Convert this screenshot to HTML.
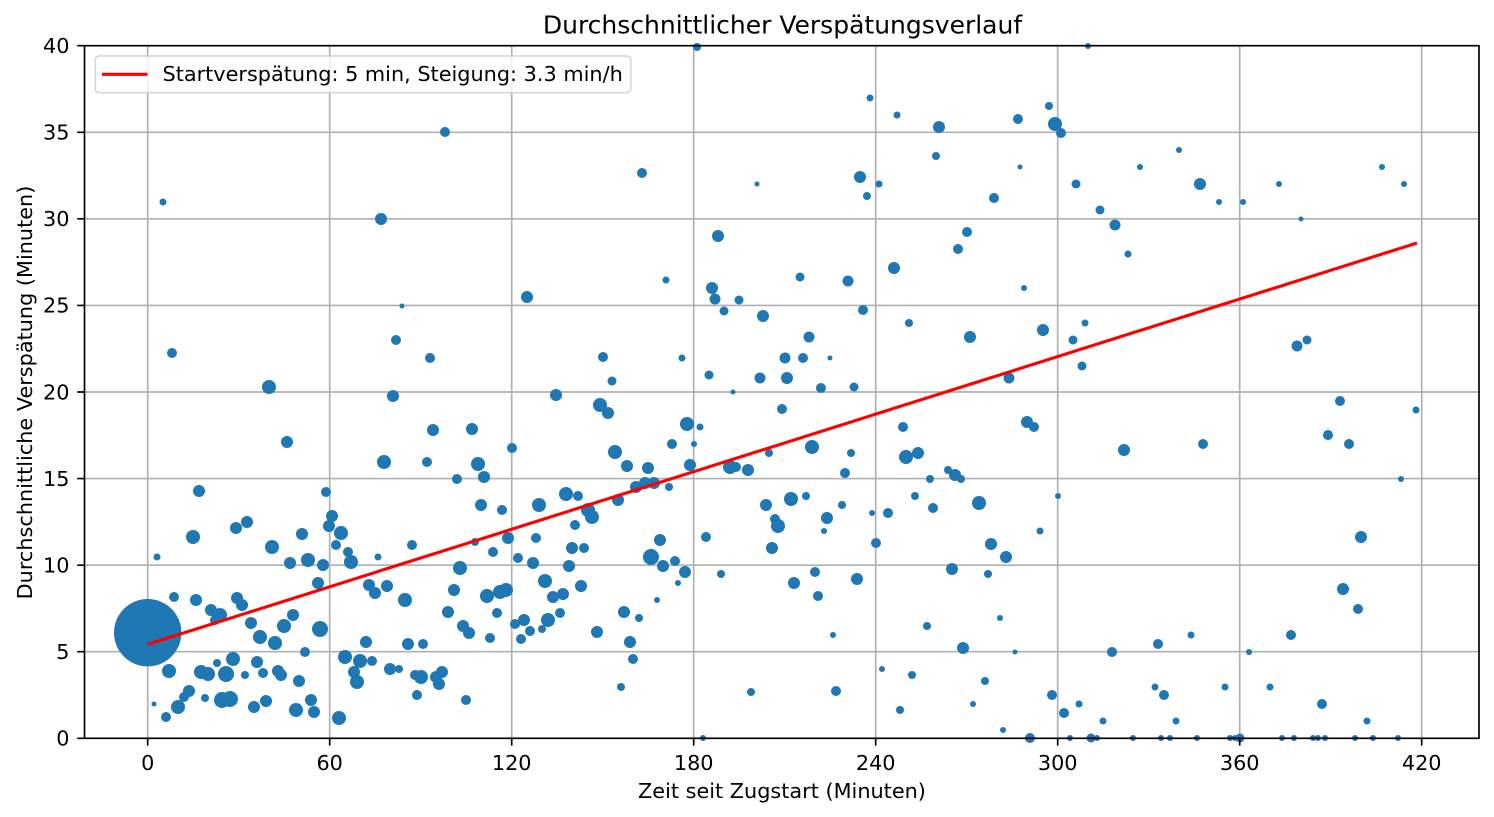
<!DOCTYPE html>
<html>
<head>
<meta charset="utf-8">
<style>
html,body{margin:0;padding:0;background:#fff;}
svg{display:block;}
text{font-family:"DejaVu Sans","Liberation Sans",sans-serif;fill:#000;}
</style>
</head>
<body>
<svg width="1494" height="817" viewBox="0 0 1494 817" xmlns="http://www.w3.org/2000/svg">
<rect x="0" y="0" width="1494" height="817" fill="#fff"/>
<g stroke="#b0b0b0" stroke-width="1.67" fill="none">
<path d="M147.7 45.7V738.3M329.7 45.7V738.3M511.7 45.7V738.3M693.7 45.7V738.3M875.7 45.7V738.3M1057.7 45.7V738.3M1239.7 45.7V738.3M1421.7 45.7V738.3"/>
<path d="M84.5 651.7H1479M84.5 565.2H1479M84.5 478.6H1479M84.5 392H1479M84.5 305.4H1479M84.5 218.8H1479M84.5 132.3H1479"/>
</g>
<g fill="#1f77b4">
<circle cx="147.7" cy="632.7" r="33.7"/>
<circle cx="269" cy="387" r="7"/><circle cx="393" cy="396" r="6"/><circle cx="556" cy="395" r="6"/><circle cx="433" cy="430" r="6"/>
<circle cx="472" cy="429" r="6"/><circle cx="287" cy="442" r="6"/><circle cx="512" cy="448" r="5"/><circle cx="384" cy="462" r="7"/>
<circle cx="427" cy="462" r="5"/><circle cx="478" cy="464" r="7"/><circle cx="484" cy="477" r="6"/><circle cx="457" cy="479" r="5"/>
<circle cx="199" cy="491" r="6"/><circle cx="326" cy="492" r="5"/><circle cx="481" cy="505" r="6"/><circle cx="539" cy="505" r="7"/>
<circle cx="502" cy="510" r="5"/><circle cx="332" cy="516" r="6"/><circle cx="329" cy="526" r="6"/><circle cx="341" cy="533" r="7"/>
<circle cx="193" cy="537" r="7"/><circle cx="236" cy="528" r="6"/><circle cx="247" cy="522" r="6"/><circle cx="302" cy="534" r="6"/>
<circle cx="272" cy="547" r="7"/><circle cx="336" cy="545" r="5"/><circle cx="412" cy="545" r="5"/><circle cx="508" cy="538" r="6"/>
<circle cx="536" cy="538" r="5"/><circle cx="157" cy="557" r="3.5"/><circle cx="378" cy="557" r="3.5"/><circle cx="348" cy="552" r="5"/>
<circle cx="351" cy="562" r="7"/><circle cx="290" cy="563" r="6"/><circle cx="308" cy="560" r="7"/><circle cx="323" cy="565" r="6"/>
<circle cx="460" cy="568" r="7"/><circle cx="475" cy="542" r="4"/><circle cx="493" cy="552" r="5"/><circle cx="518" cy="558" r="5"/>
<circle cx="533" cy="563" r="6"/><circle cx="318" cy="583" r="6"/><circle cx="369" cy="585" r="6"/><circle cx="387" cy="586" r="6"/>
<circle cx="375" cy="593" r="6"/><circle cx="405" cy="600" r="7"/><circle cx="454" cy="590" r="6"/><circle cx="545" cy="581" r="7"/>
<circle cx="487" cy="596" r="7"/><circle cx="500" cy="592" r="7"/><circle cx="506" cy="590" r="7"/><circle cx="553" cy="597" r="6"/>
<circle cx="563" cy="594" r="6"/><circle cx="174" cy="597" r="5"/><circle cx="196" cy="600" r="6"/><circle cx="237" cy="598" r="6"/>
<circle cx="242" cy="605" r="6"/><circle cx="211" cy="610" r="6"/><circle cx="220" cy="615" r="7"/><circle cx="215" cy="620" r="5"/>
<circle cx="293" cy="615" r="6"/><circle cx="251" cy="623" r="6"/><circle cx="284" cy="626" r="7"/><circle cx="320" cy="629" r="8"/>
<circle cx="260" cy="637" r="7"/><circle cx="275" cy="643" r="7"/><circle cx="448" cy="612" r="6"/><circle cx="497" cy="613" r="5"/>
<circle cx="524" cy="620" r="6"/><circle cx="515" cy="624" r="5"/><circle cx="548" cy="620" r="7"/><circle cx="542" cy="629" r="4"/>
<circle cx="530" cy="631" r="5"/><circle cx="521" cy="639" r="5"/><circle cx="463" cy="626" r="6"/><circle cx="469" cy="633" r="6"/>
<circle cx="490" cy="638" r="5"/><circle cx="366" cy="642" r="6"/><circle cx="408" cy="644" r="6"/><circle cx="423" cy="644" r="5"/>
<circle cx="305" cy="652" r="5"/><circle cx="169" cy="671" r="7"/><circle cx="217" cy="663" r="4"/><circle cx="233" cy="659" r="7"/>
<circle cx="201" cy="672" r="7"/><circle cx="208" cy="674" r="7"/><circle cx="226" cy="674" r="8"/><circle cx="245" cy="675" r="4"/>
<circle cx="257" cy="662" r="6"/><circle cx="263" cy="673" r="5"/><circle cx="278" cy="671" r="6"/><circle cx="281" cy="675" r="6"/>
<circle cx="299" cy="681" r="6"/><circle cx="345" cy="657" r="7"/><circle cx="360" cy="661" r="7"/><circle cx="372" cy="661" r="5"/>
<circle cx="354" cy="672" r="6"/><circle cx="357" cy="682" r="7"/><circle cx="390" cy="669" r="6"/><circle cx="399" cy="669" r="4"/>
<circle cx="415" cy="675" r="5"/><circle cx="421" cy="677" r="7"/><circle cx="436" cy="677" r="6"/><circle cx="442" cy="672" r="6"/>
<circle cx="439" cy="684" r="6"/><circle cx="189" cy="691" r="6"/><circle cx="184" cy="697" r="5"/><circle cx="178" cy="707" r="7"/>
<circle cx="154" cy="704" r="2.5"/><circle cx="166" cy="717" r="5"/><circle cx="205" cy="698" r="4"/><circle cx="222" cy="700" r="8"/>
<circle cx="230" cy="699" r="8"/><circle cx="254" cy="707" r="6"/><circle cx="266" cy="701" r="6"/><circle cx="296" cy="710" r="7"/>
<circle cx="311" cy="700" r="6"/><circle cx="314" cy="712" r="6"/><circle cx="339" cy="718" r="7"/><circle cx="417" cy="695" r="5"/>
<circle cx="466" cy="700" r="5"/>
<circle cx="163" cy="202" r="3.5"/><circle cx="381" cy="219" r="6"/><circle cx="445" cy="132" r="5"/><circle cx="402" cy="306" r="2.5"/>
<circle cx="527" cy="297" r="6"/><circle cx="172" cy="353" r="5"/><circle cx="396" cy="340" r="5"/><circle cx="430" cy="358" r="5"/>
<circle cx="697" cy="47" r="4"/><circle cx="870" cy="98" r="3.5"/><circle cx="897" cy="115" r="3.5"/><circle cx="939" cy="127" r="6"/>
<circle cx="1018" cy="119" r="5"/><circle cx="936" cy="156" r="4"/><circle cx="1020" cy="167" r="2.5"/><circle cx="642" cy="173" r="5"/>
<circle cx="757" cy="184" r="2.5"/><circle cx="860" cy="177" r="6"/><circle cx="879" cy="184" r="3.5"/><circle cx="867" cy="196" r="4"/>
<circle cx="994" cy="198" r="5"/><circle cx="718" cy="236" r="6"/><circle cx="967" cy="232" r="5"/><circle cx="958" cy="249" r="5"/>
<circle cx="894" cy="268" r="6"/><circle cx="666" cy="280" r="3.5"/><circle cx="800" cy="277" r="4.5"/><circle cx="848" cy="281" r="5.5"/>
<circle cx="712" cy="288" r="6"/><circle cx="715" cy="299" r="5.5"/><circle cx="739" cy="300" r="4.5"/><circle cx="724" cy="311" r="4.5"/>
<circle cx="763" cy="316" r="6"/><circle cx="863" cy="310" r="5"/><circle cx="909" cy="323" r="4"/><circle cx="970" cy="337" r="6"/>
<circle cx="809" cy="337" r="5.5"/><circle cx="603" cy="357" r="5"/><circle cx="682" cy="358" r="3.5"/><circle cx="785" cy="358" r="5.5"/>
<circle cx="803" cy="358" r="5"/><circle cx="830" cy="358" r="2.5"/><circle cx="612" cy="381" r="4.5"/><circle cx="709" cy="375" r="4.5"/>
<circle cx="760" cy="378" r="5.5"/><circle cx="787" cy="378" r="6"/><circle cx="1009" cy="378" r="5.5"/><circle cx="821" cy="388" r="5"/>
<circle cx="854" cy="387" r="4.5"/><circle cx="733" cy="392" r="2.5"/>
<circle cx="600" cy="405" r="7"/><circle cx="608" cy="413" r="6"/><circle cx="782" cy="409" r="5"/><circle cx="687" cy="424" r="7"/>
<circle cx="700" cy="427" r="3.5"/><circle cx="672" cy="444" r="5"/><circle cx="694" cy="444" r="3"/><circle cx="615" cy="452" r="7"/>
<circle cx="627" cy="466" r="6"/><circle cx="648" cy="468" r="6"/><circle cx="690" cy="465" r="6"/><circle cx="730" cy="467" r="7"/>
<circle cx="736" cy="467" r="5"/><circle cx="748" cy="470" r="6"/><circle cx="769" cy="453" r="4"/><circle cx="812" cy="447" r="7"/>
<circle cx="851" cy="453" r="4"/><circle cx="845" cy="473" r="5"/><circle cx="903" cy="427" r="5"/><circle cx="906" cy="457" r="7"/>
<circle cx="918" cy="453" r="6"/><circle cx="948" cy="470" r="4"/><circle cx="955" cy="475" r="6"/><circle cx="961" cy="479" r="4"/>
<circle cx="930" cy="479" r="4"/><circle cx="915" cy="496" r="4"/><circle cx="933" cy="508" r="5"/><circle cx="979" cy="503" r="7"/>
<circle cx="566" cy="494" r="7"/><circle cx="578" cy="496" r="5"/><circle cx="588" cy="510" r="7"/><circle cx="592" cy="517" r="7"/>
<circle cx="575" cy="525" r="5"/><circle cx="618" cy="500" r="6"/><circle cx="636" cy="487" r="6"/><circle cx="645" cy="483" r="6"/>
<circle cx="654" cy="483" r="6"/><circle cx="669" cy="487" r="4"/><circle cx="766" cy="505" r="6"/><circle cx="791" cy="499" r="7"/>
<circle cx="806" cy="496" r="4"/><circle cx="775" cy="519" r="5"/><circle cx="778" cy="526" r="7"/><circle cx="827" cy="518" r="6"/>
<circle cx="842" cy="505" r="4"/><circle cx="824" cy="531" r="3"/><circle cx="872" cy="513" r="3"/><circle cx="888" cy="513" r="5"/>
<circle cx="876" cy="543" r="5"/><circle cx="991" cy="544" r="6"/><circle cx="1006" cy="557" r="6"/><circle cx="952" cy="569" r="6"/>
<circle cx="988" cy="574" r="4"/><circle cx="706" cy="537" r="5"/><circle cx="772" cy="548" r="6"/><circle cx="572" cy="548" r="6"/>
<circle cx="584" cy="548" r="5"/><circle cx="569" cy="566" r="6"/><circle cx="581" cy="586" r="6"/><circle cx="560" cy="613" r="5"/>
<circle cx="660" cy="540" r="6"/><circle cx="651" cy="557" r="8"/><circle cx="663" cy="566" r="6"/><circle cx="675" cy="561" r="5"/>
<circle cx="685" cy="572" r="6"/><circle cx="678" cy="583" r="3"/><circle cx="721" cy="574" r="4"/><circle cx="657" cy="600" r="3"/>
<circle cx="624" cy="612" r="6"/><circle cx="639" cy="618" r="4"/><circle cx="597" cy="632" r="6"/><circle cx="630" cy="642" r="6"/>
<circle cx="633" cy="659" r="5"/><circle cx="621" cy="687" r="4"/><circle cx="751" cy="692" r="4"/><circle cx="703" cy="738" r="3"/>
<circle cx="815" cy="572" r="5"/><circle cx="794" cy="583" r="6"/><circle cx="818" cy="596" r="5"/><circle cx="857" cy="579" r="6"/>
<circle cx="833" cy="635" r="3"/><circle cx="836" cy="691" r="5"/><circle cx="927" cy="626" r="4"/><circle cx="963" cy="648" r="6"/>
<circle cx="1000" cy="618" r="3"/><circle cx="1015" cy="652" r="2.5"/><circle cx="882" cy="669" r="3"/><circle cx="912" cy="675" r="4"/>
<circle cx="985" cy="681" r="4"/><circle cx="900" cy="710" r="4"/><circle cx="973" cy="704" r="3"/><circle cx="1003" cy="730" r="3"/>
<circle cx="1027" cy="422" r="6"/><circle cx="1034" cy="427" r="5"/><circle cx="1124" cy="450" r="6"/><circle cx="1203" cy="444" r="5"/>
<circle cx="1340" cy="401" r="5"/><circle cx="1416" cy="410" r="3.5"/><circle cx="1328" cy="435" r="5"/><circle cx="1349" cy="444" r="5"/>
<circle cx="1401" cy="479" r="3"/><circle cx="1058" cy="496" r="3"/><circle cx="1040" cy="531" r="3.5"/><circle cx="1361" cy="537" r="6"/>
<circle cx="1343" cy="589" r="6"/><circle cx="1358" cy="609" r="5"/><circle cx="1291" cy="635" r="5"/><circle cx="1191" cy="635" r="3.5"/>
<circle cx="1158" cy="644" r="5"/><circle cx="1112" cy="652" r="5"/><circle cx="1249" cy="652" r="3"/><circle cx="1052" cy="695" r="5"/>
<circle cx="1064" cy="713" r="5"/><circle cx="1079" cy="704" r="3.5"/><circle cx="1103" cy="721" r="3.5"/><circle cx="1155" cy="687" r="3.5"/>
<circle cx="1164" cy="695" r="5"/><circle cx="1176" cy="721" r="3.5"/><circle cx="1225" cy="687" r="3.5"/><circle cx="1270" cy="687" r="3.5"/>
<circle cx="1322" cy="704" r="5"/><circle cx="1367" cy="721" r="3.5"/>
<circle cx="1030" cy="738" r="5"/><circle cx="1070" cy="738" r="3"/><circle cx="1091" cy="738" r="4.5"/><circle cx="1097" cy="738" r="3"/>
<circle cx="1133" cy="738" r="3"/><circle cx="1161" cy="738" r="3"/><circle cx="1170" cy="738" r="3"/><circle cx="1197" cy="738" r="3"/>
<circle cx="1230" cy="738" r="3"/><circle cx="1235" cy="738" r="3"/><circle cx="1240" cy="738" r="4.5"/><circle cx="1282" cy="738" r="3"/>
<circle cx="1294" cy="738" r="3"/><circle cx="1313" cy="738" r="3"/><circle cx="1318" cy="738" r="3"/><circle cx="1325" cy="738" r="3"/>
<circle cx="1355" cy="738" r="3"/><circle cx="1373" cy="738" r="3"/><circle cx="1398" cy="738" r="3"/>
<circle cx="1088" cy="46" r="3"/><circle cx="1049" cy="106" r="4"/><circle cx="1055" cy="124" r="7"/><circle cx="1061" cy="133" r="5"/>
<circle cx="1076" cy="184" r="4.5"/><circle cx="1140" cy="167" r="3"/><circle cx="1179" cy="150" r="3"/><circle cx="1200" cy="184" r="6"/>
<circle cx="1219" cy="202" r="3"/><circle cx="1243" cy="202" r="3"/><circle cx="1279" cy="184" r="3"/><circle cx="1301" cy="219" r="2.5"/>
<circle cx="1382" cy="167" r="3"/><circle cx="1404" cy="184" r="3"/><circle cx="1100" cy="210" r="4.5"/><circle cx="1115" cy="225" r="5.5"/>
<circle cx="1128" cy="254" r="3.5"/><circle cx="1024" cy="288" r="3"/><circle cx="1043" cy="330" r="6"/><circle cx="1073" cy="340" r="4.5"/>
<circle cx="1085" cy="323" r="3.5"/><circle cx="1082" cy="366" r="4.5"/><circle cx="1297" cy="346" r="5.5"/><circle cx="1307" cy="340" r="4.5"/>
</g>
<line x1="147.7" y1="644.3" x2="1417" y2="243" stroke="#ff0000" stroke-width="3.1"/>
<rect x="84.5" y="45.7" width="1394.5" height="692.6" fill="none" stroke="#000" stroke-width="1.67"/>
<g stroke="#000" stroke-width="1.67" fill="none">
<path d="M147.7 738.3V745.6M329.7 738.3V745.6M511.7 738.3V745.6M693.7 738.3V745.6M875.7 738.3V745.6M1057.7 738.3V745.6M1239.7 738.3V745.6M1421.7 738.3V745.6"/>
<path d="M77.2 738.3H84.5M77.2 651.7H84.5M77.2 565.2H84.5M77.2 478.6H84.5M77.2 392H84.5M77.2 305.4H84.5M77.2 218.8H84.5M77.2 132.3H84.5M77.2 45.7H84.5"/>
</g>
<g font-size="20.8" text-anchor="middle">
<text x="147.7" y="770">0</text><text x="329.7" y="770">60</text><text x="511.7" y="770">120</text><text x="693.7" y="770">180</text>
<text x="875.7" y="770">240</text><text x="1057.7" y="770">300</text><text x="1239.7" y="770">360</text><text x="1421.7" y="770">420</text>
</g>
<g font-size="20.8" text-anchor="end">
<text x="69.5" y="745.6">0</text><text x="69.5" y="659">5</text><text x="69.5" y="572.5">10</text><text x="69.5" y="485.9">15</text>
<text x="69.5" y="399.3">20</text><text x="69.5" y="312.7">25</text><text x="69.5" y="226.1">30</text><text x="69.5" y="139.6">35</text>
<text x="69.5" y="53">40</text>
</g>
<text x="782" y="798" font-size="20.8" text-anchor="middle">Zeit seit Zugstart (Minuten)</text>
<text transform="translate(32,392.5) rotate(-90)" font-size="20.8" text-anchor="middle">Durchschnittliche Verspätung (Minuten)</text>
<text x="782.5" y="33.3" font-size="25" text-anchor="middle">Durchschnittlicher Verspätungsverlauf</text>
<rect x="95.3" y="55.9" width="535.4" height="36.8" rx="4" ry="4" fill="#ffffff" fill-opacity="0.8" stroke="#cccccc" stroke-opacity="0.8" stroke-width="1.67"/>
<line x1="102" y1="74.3" x2="147.5" y2="74.3" stroke="#ff0000" stroke-width="3.1"/>
<text x="162.5" y="81" font-size="20.8">Startverspätung: 5 min, Steigung: 3.3 min/h</text>
</svg>
</body>
</html>
